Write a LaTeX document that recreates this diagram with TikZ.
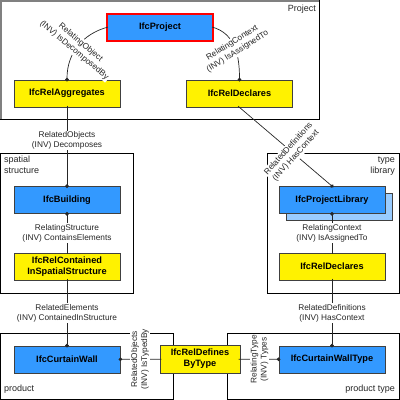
\documentclass[tikz,border=0pt]{standalone}
\usepackage{fontspec}
\setmainfont{Liberation Sans}
\usepackage{tikz}
\usetikzlibrary{shapes, arrows, arrows.meta}
\definecolor{ifcblue}{RGB}{51,153,255}
\definecolor{ifclight}{RGB}{153,204,255}
\tikzstyle{ecell} = [rectangle, draw=black!75, fill=ifcblue, line width=0.8pt, minimum width=106pt, minimum height=27pt, text centered, align=center, font=\fontsize{9.2}{11}\selectfont\bfseries]
\tikzstyle{rcell} = [ecell, fill=yellow]
\tikzstyle{frame} = [draw, line width=0.8pt]
\tikzstyle{tag} = [inner sep=0pt, font=\fontsize{9}{11}\selectfont, text=black!85]
\tikzstyle{role} = [fill=white, inner sep=1pt, align=center, font=\fontsize{8.3}{10}\selectfont, text=black!85]
\tikzstyle{line} = [draw, black!85, line width=0.7pt, >={Circle[length=3.6pt]}, shorten >=-1.8pt, shorten <=-1.8pt]

\begin{document}
\begin{tikzpicture}[x=1pt, y=-1pt]
    \useasboundingbox (0,0) rectangle (400,400);

    \path[frame] (0.5,0.5) rectangle (319.5,119.5);
    \draw[black!50, line width=2pt] (1,119) -- (1,1) -- (319,1);
    \path[frame] (0.5,153) rectangle (133,293);
    \path[frame] (267,153) rectangle (399.5,293);
    \path[frame] (0.5,333) rectangle (173,399.5);
    \path[frame] (227,333) rectangle (399.5,399.5);

    \node[tag, anchor=north east] at (316,5) {Project};
    \node[tag, anchor=north west, align=left] at (4,156) {spatial\\structure};
    \node[tag, anchor=north east, align=right] at (395,156) {type\\library};
    \node[tag, anchor=south west] at (4,394) {product};
    \node[tag, anchor=south east] at (395,394) {product type};

    \node[ecell, draw=red, line width=1.5pt](project) at (160,27.5) {IfcProject};
    \node[rcell](aggregates) at (67,93.5) {IfcRelAggregates};
    \node[rcell](declares) at (239.5,93.5) {IfcRelDeclares};
    \node[ecell](building) at (67,200) {IfcBuilding};
    \node[rcell](contained) at (67,266.5) {IfcRelContained\\InSpatialStructure};
    \node[ecell, fill=ifclight](libshadow) at (339,207) {};
    \node[ecell](library) at (332,200) {IfcProjectLibrary};
    \node[rcell](libdeclares) at (332,266.5) {IfcRelDeclares};
    \node[ecell](wall) at (67,359.5) {IfcCurtainWall};
    \node[rcell, minimum width=80pt, minimum height=28pt](bytype) at (200,359) {IfcRelDefines\\ByType};
    \node[ecell](walltype) at (332,359.5) {IfcCurtainWallType};

    \path[line, ->] (project.west) to[out=195, in=90] node[role, pos=0.5, rotate=-40] {RelatingObject\\(INV) IsDecomposedBy} (aggregates.north);
    \path[line, ->] (project.east) to[out=-15, in=90] node[role, pos=0.5, rotate=32] {RelatingContext\\(INV) IsAssignedTo} (declares.north);

    \path[line, ->] (aggregates) -- node[role, pos=0.42] {RelatedObjects\\(INV) Decomposes} (building);
    \path[line, <-] (building) -- node[role] {RelatingStructure\\(INV) ContainsElements} (contained);
    \path[line, ->] (contained) -- node[role] {RelatedElements\\(INV) ContainedInStructure} (wall);

    \path[line, ->] (declares.south) -- node[role, pos=0.57, rotate=48] {RelatedDefinitions\\(INV) HasContext} (library.north);
    \path[line, <-] (library) -- node[role] {RelatingContext\\(INV) IsAssignedTo} (libdeclares);
    \path[line, ->] (libdeclares) -- node[role] {RelatedDefinitions\\(INV) HasContext} (walltype);

    \path[line, ->] (bytype) -- node[role, rotate=90] {RelatedObjects\\(INV) IsTypedBy} (wall);
    \path[line, ->] (bytype) -- node[role, rotate=90] {RelatingType\\(INV) Types} (walltype);
\end{tikzpicture}
\end{document}
